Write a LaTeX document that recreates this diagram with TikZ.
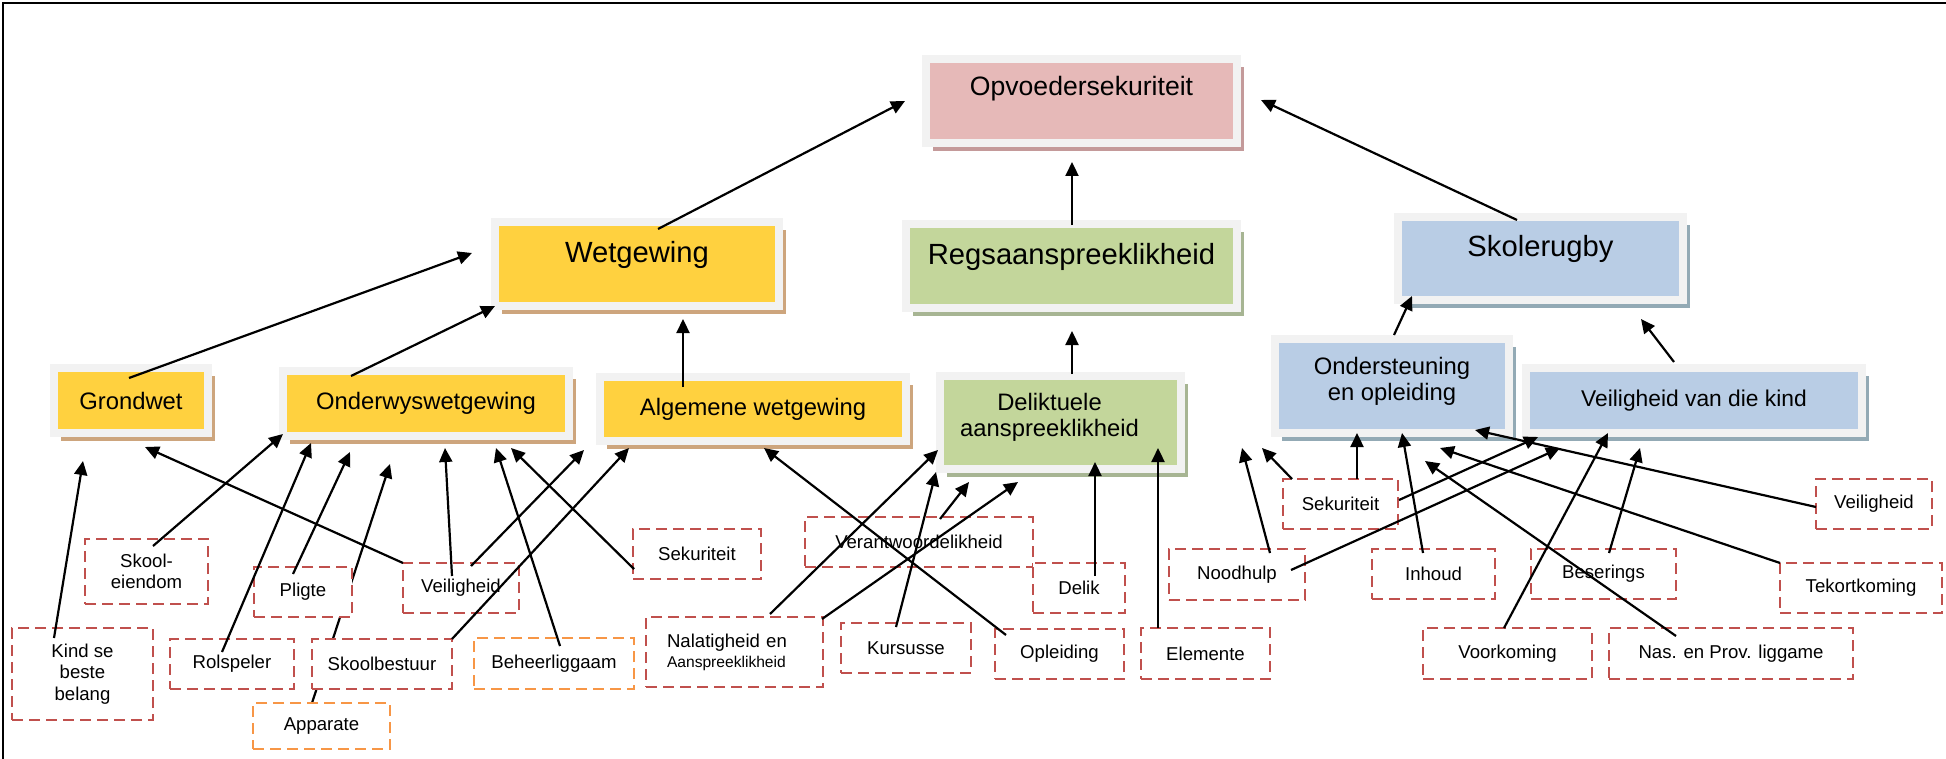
\documentclass[tikz,border=0pt]{standalone}
\usepackage{fontspec}
\setmainfont{Liberation Sans}
\usetikzlibrary{arrows.meta,shadows,backgrounds}

\definecolor{raamgrys}{HTML}{F2F2F2}
\definecolor{wetgeel}{HTML}{FFD13F}
\definecolor{wetskadu}{HTML}{CDA57D}
\definecolor{regsgroen}{HTML}{C3D69B}
\definecolor{regsskadu}{HTML}{A7B593}
\definecolor{opvoerooi}{HTML}{E6B9B8}
\definecolor{opvoeskadu}{HTML}{C49A9A}
\definecolor{rugbyblou}{HTML}{B9CDE5}
\definecolor{rugbyskadu}{HTML}{93AAB5}
\definecolor{stippelrooi}{HTML}{C0504D}
\definecolor{stippeloranje}{HTML}{F79646}

\tikzset{every picture/.style={line width=0.75pt}}
\tikzset{
	blok/.style 2 args={draw=raamgrys, line width=4pt, fill=#1, outer sep=0pt, inner sep=2pt, align=center,
		drop shadow={shadow xshift=3.5pt, shadow yshift=-4pt, fill=#2, opacity=1}},
	geelblok/.style={blok={wetgeel}{wetskadu}},
	groenblok/.style={blok={regsgroen}{regsskadu}},
	pienkblok/.style={blok={opvoerooi}{opvoeskadu}},
	bloublok/.style={blok={rugbyblou}{rugbyskadu}},
	vlak1/.style={font=\fontsize{14.6pt}{16pt}\selectfont, text depth=12.5pt},
	vlak2/.style={font=\fontsize{11.9pt}{13pt}\selectfont},
	stippel/.style={draw=stippelrooi, line width=1.2pt, dash pattern=on 5.5pt off 3pt, fill=white, outer sep=0pt, inner sep=1pt, align=center, font=\fontsize{9.3pt}{10.7pt}\selectfont},
	oranjestippel/.style={stippel, draw=stippeloranje},
	pyl/.style={-{Triangle[length=7pt,width=6.5pt]}, line width=1.1pt},
}

\begin{document}
\begin{tikzpicture}[x=0.5pt,y=0.5pt,yscale=-1,xscale=1]
	\useasboundingbox (0,0) rectangle (1946,759);
	% Frame
	\draw[line width=1.1pt] (3,759) -- (3,3) -- (1946,3);
	
	% Text Node
	\node[pienkblok, vlak1, text depth=15.5pt, font=\fontsize{13.3pt}{15pt}\selectfont, minimum width=155.5pt, minimum height=42pt] (opvoeder) at (1081.5,101) {Opvoedersekuriteit};
	% Text Node
	\node[geelblok, vlak1, minimum width=142pt, minimum height=42pt] (wetgewing) at (637,264) {Wetgewing};
	% Text Node
	\node[groenblok, vlak1, minimum width=165.5pt, minimum height=42pt] (regs) at (1071.5,266) {Regsaanspreeklikheid};
	% Text Node
	\node[bloublok, vlak1, minimum width=142.5pt, minimum height=41.5pt] (rugby) at (1540.5,258.5) {Skolerugby};
	
	% Text Node
	\node[geelblok, vlak2, minimum width=77pt, minimum height=32.5pt] (grondwet) at (131,400.5) {Grondwet};
	% Text Node
	\node[geelblok, vlak2, minimum width=143pt, minimum height=32.5pt] (onderwys) at (426,403.5) {Onderwyswetgewing};
	% Text Node
	\node[geelblok, vlak2, minimum width=153pt, minimum height=32pt] (algemeen) at (753,409) {Algemene wetgewing};
	% Text Node
	\node[groenblok, vlak2, text depth=7.5pt, minimum width=120.5pt, minimum height=46.5pt] (delikt) at (1060.5,422.5) {Deliktuele\hspace*{11pt}\\aanspreeklikheid\hspace*{11pt}};
	% Text Node
	\node[bloublok, vlak2, text depth=7.5pt, minimum width=117pt, minimum height=47pt] (steun) at (1392,386) {Ondersteuning\\en opleiding};
	% Text Node
	\node[bloublok, vlak2, font=\fontsize{11.4pt}{13pt}\selectfont, minimum width=168pt, minimum height=32.5pt] (kindveilig) at (1694,400.5) {Veiligheid van die kind};
	
	% Text Node
	\node[stippel, minimum width=70.5pt, minimum height=46pt] (kind) at (82.5,674) {Kind se\\beste\\belang};
	% Text Node
	\node[stippel, minimum width=61.5pt, minimum height=32.5pt] (eiendom) at (146.5,571.5) {Skool-\\eiendom};
	% Text Node
	\node[stippel, minimum width=49pt, minimum height=25pt] (pligte) at (303,592) {Pligte};
	% Text Node
	\node[stippel, minimum width=58pt, minimum height=25pt] (veilig) at (461,588) {Veiligheid};
	% Text Node
	\node[stippel, minimum width=62pt, minimum height=25pt] (rol) at (232,664) {Rolspeler};
	% Text Node
	\node[stippel, minimum width=70pt, minimum height=25pt] (bestuur) at (382,664) {Skoolbestuur};
	% Text Node
	\node[oranjestippel, minimum width=68.5pt, minimum height=23pt] (apparate) at (321.5,726) {Apparate};
	% Text Node
	\node[oranjestippel, minimum width=80pt, minimum height=25.5pt] (beheer) at (554,663.5) {Beheerliggaam};
	% Text Node
	\node[stippel, minimum width=64pt, minimum height=25pt] (sekuriteit) at (697,554) {Sekuriteit};
	% Text Node
	\node[stippel, align=left, text width=67.5pt, inner xsep=10.5pt, font=\fontsize{9.3pt}{10pt}\selectfont, minimum width=88.5pt, minimum height=35pt] (nalatig) at (734.5,652) {Nalatigheid en\\{\fontsize{7.8pt}{10pt}\selectfont Aanspreeklikheid}};
	% Text Node
	\node[stippel, minimum width=114pt, minimum height=25pt] (verant) at (919,542) {Verantwoordelikheid};
	% Text Node
	\node[stippel, minimum width=65pt, minimum height=25pt] (kursus) at (906,648) {Kursusse};
	% Text Node
	\node[stippel, minimum width=64.5pt, minimum height=25pt] (opleiding) at (1059.5,654) {Opleiding};
	% Text Node
	\node[stippel, minimum width=46pt, minimum height=25pt] (delik) at (1079,588) {Delik};
	% Text Node
	\node[stippel, minimum width=64.5pt, minimum height=25.5pt] (elemente) at (1205.5,653.5) {Elemente};
	% Text Node
	\node[stippel, minimum width=68pt, minimum height=25.5pt] (noodhulp) at (1237,574.5) {Noodhulp};
	% Text Node
	\node[stippel, minimum width=57.5pt, minimum height=25pt] (sekur2) at (1340.5,504) {Sekuriteit};
	% Text Node
	\node[stippel, minimum width=61.5pt, minimum height=25pt] (inhoud) at (1433.5,574) {Inhoud};
	% Text Node
	\node[stippel, minimum width=72.5pt, minimum height=25pt] (besering) at (1603.5,574) {Beserings};
	% Text Node
	\node[stippel, minimum width=58pt, minimum height=25pt] (veilig2) at (1874,504) {Veiligheid};
	% Text Node
	\node[stippel, minimum width=81pt, minimum height=25pt] (tekort) at (1861,588) {Tekortkoming};
	% Text Node
	\node[stippel, minimum width=84.5pt, minimum height=25.5pt] (voorkom) at (1507.5,653.5) {Voorkoming};
	% Text Node
	\node[stippel, minimum width=122pt, minimum height=25.5pt] (nas) at (1731,653.5) {Nas. en Prov. liggame};
	
	% Arrow ends
	\coordinate (p1) at (472,253);
	\coordinate (p3) at (683,319);
	\coordinate (p4) at (905,101);
	\coordinate (p5) at (1072,162);
	\coordinate (p6) at (1072,331);
	\coordinate (p7) at (1261,100);
	\coordinate (p8) at (1412,296);
	\coordinate (p9) at (1641,319);
	\coordinate (p10) at (83,461);
	\coordinate (p11) at (283,434);
	\coordinate (p12) at (145,447);
	\coordinate (p13) at (311,443);
	\coordinate (p14) at (350,452);
	\coordinate (p15) at (390,464);
	\coordinate (p16) at (445,448);
	\coordinate (p17) at (584,450);
	\coordinate (p18) at (496,448);
	\coordinate (p19) at (511,448);
	\coordinate (p20) at (629,448);
	\coordinate (p21) at (764,448);
	\coordinate (p22) at (938,450);
	\coordinate (p23) at (1018,482);
	\coordinate (p24) at (936,472);
	\coordinate (p25) at (969,482);
	\coordinate (p26) at (1095,462);
	\coordinate (p27) at (1158,448);
	\coordinate (p28) at (1242,448);
	\coordinate (p29) at (1262,448);
	\coordinate (p30) at (1560,448);
	\coordinate (p31) at (1357,433);
	\coordinate (p32) at (1538,437);
	\coordinate (p33) at (1402,433);
	\coordinate (p34) at (1425,461);
	\coordinate (p35) at (1440,448);
	\coordinate (p36) at (1475,430);
	\coordinate (p37) at (1608,433);
	\coordinate (p38) at (1640,448);
	
	% Connection (behind Pligte and Skoolbestuur)
	\begin{scope}[on background layer]
		\draw[pyl] ([xshift=-4.75pt]apparate.north) -- (p15);
	\end{scope}
	
	% Connection
	\draw[pyl] ([xshift=-1pt,yshift=5pt]grondwet.north) -- (p1);
	% Connection
	\draw[pyl] ([xshift=-37.5pt,yshift=2.5pt]onderwys.north) -- (wetgewing.south west);
	% Connection
	\draw[pyl] ([xshift=-35pt,yshift=5pt]algemeen.north) -- (p3);
	% Connection
	\draw[pyl] ([xshift=10.5pt,yshift=3.5pt]wetgewing.north) -- (p4);
	% Connection
	\draw[pyl] ([xshift=0.25pt,yshift=0.5pt]regs.north) -- (p5);
	% Connection
	\draw[pyl] ([xshift=5.75pt,yshift=-1pt]delikt.north) -- (p6);
	% Connection
	\draw[pyl] ([xshift=-11.75pt,yshift=1.5pt]rugby.north) -- (p7);
	% Connection
	\draw[pyl] ([xshift=1pt,yshift=-2pt]steun.north) -- (p8);
	% Connection
	\draw[pyl] ([xshift=-10pt,yshift=-3pt]kindveilig.north) -- (p9);
	
	% Connection
	\draw[pyl] ([xshift=-14.25pt,yshift=5pt]kind.north) -- (p10);
	% Connection
	\draw[pyl] ([xshift=3.25pt,yshift=3.5pt]eiendom.north) -- (p11);
	% Connection
	\draw[pyl] (veilig.north west) -- (p12);
	% Connection
	\draw[pyl] ([xshift=-5pt,yshift=6.5pt]rol.north) -- (p13);
	% Connection
	\draw[pyl] ([xshift=-5pt,yshift=3.5pt]pligte.north) -- (p14);
	% Connection
	\draw[pyl] ([xshift=-4.5pt,yshift=6.5pt]veilig.north) -- (p16);
	% Connection
	\draw[pyl] ([xshift=5pt,yshift=1.5pt]veilig.north) -- (p17);
	% Connection
	\draw[pyl] ([xshift=3pt,yshift=4pt]beheer.north) -- (p18);
	% Connection
	\draw[pyl] ([xshift=0.5pt,yshift=7.5pt]sekuriteit.west) -- (p19);
	% Connection
	\draw[pyl] (bestuur.north east) -- (p20);
	% Connection
	\draw[pyl] ([xshift=5.5pt,yshift=3pt]opleiding.north west) -- (p21);
	% Connection
	\draw[pyl] ([xshift=17.75pt,yshift=-1.5pt]nalatig.north) -- (p22);
	% Connection
	\draw[pyl] ([xshift=-0.5pt,yshift=1pt]nalatig.north east) -- (p23);
	% Connection
	\draw[pyl] ([xshift=-5pt,yshift=2pt]kursus.north) -- (p24);
	% Connection
	\draw[pyl] ([xshift=10.5pt,yshift=1pt]verant.north) -- (p25);
	% Connection
	\draw[pyl] ([xshift=8pt,yshift=6.5pt]delik.north) -- (p26);
	% Connection
	\draw[pyl] ([xshift=-23.75pt]elemente.north) -- (p27);
	% Connection
	\draw[pyl] ([xshift=16.5pt,yshift=2pt]noodhulp.north) -- (p28);
	% Connection
	\draw[pyl] ([xshift=4.5pt]sekur2.north west) -- (p29);
	% Connection
	\draw[pyl] ([xshift=-7pt,yshift=-2.25pt]noodhulp.east) -- (p30);
	% Connection
	\draw[pyl] ([xshift=8.25pt]sekur2.north) -- (p31);
	% Connection
	\draw[pyl] ([xshift=0.5pt,yshift=-2pt]sekur2.east) -- (p32);
	% Connection
	\draw[pyl] ([xshift=-5.25pt,yshift=2pt]inhoud.north) -- (p33);
	% Connection
	\draw[pyl] ([xshift=-27.5pt,yshift=4pt]nas.north) -- (p34);
	% Connection
	\draw[pyl] (tekort.north west) -- (p35);
	% Connection
	\draw[pyl] ([yshift=1.5pt]veilig2.west) -- (p36);
	% Connection
	\draw[pyl] ([xshift=-1.75pt]voorkom.north) -- (p37);
	% Connection
	\draw[pyl] ([xshift=2.75pt,yshift=2pt]besering.north) -- (p38);
	
\end{tikzpicture}
\end{document}
